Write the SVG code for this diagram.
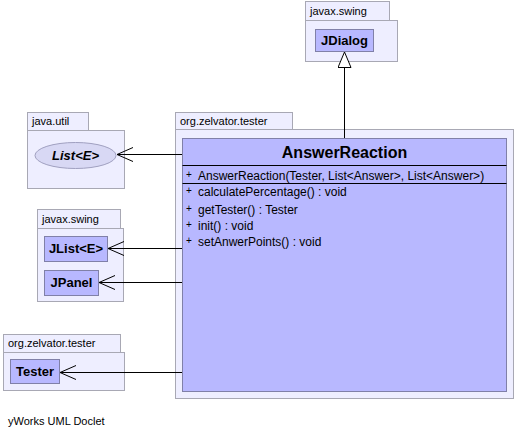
<svg xmlns="http://www.w3.org/2000/svg" width="517" height="437" viewBox="0 0 517 437">
<defs>
<style>
.pkg{fill:#eeeeff;stroke:#a8a8b4;stroke-width:1}
.cls{fill:#b8b8ff;stroke:#8080a8;stroke-width:1}
.ell{fill:#d8d8f4;stroke:#a0a0c0;stroke-width:1}
.pt{font-family:"Liberation Sans",Arial,sans-serif;font-size:11px;fill:#000}
.cn{font-family:"Liberation Sans",Arial,sans-serif;font-size:13px;font-weight:bold;fill:#000}
.big{font-family:"Liberation Sans",Arial,sans-serif;font-size:16px;font-weight:bold;fill:#000}
.mt{font-family:"Liberation Sans",Arial,sans-serif;font-size:12px;fill:#000}
.pl{font-family:"Liberation Sans",Arial,sans-serif;font-size:10px;fill:#000}
.edge{stroke:#000;stroke-width:1;fill:none}
</style>
<marker id="open" markerWidth="18" markerHeight="18" refX="16" refY="8" orient="auto" markerUnits="userSpaceOnUse" viewBox="0 0 18 16">
<path d="M0,1 L16,8 L0,15" fill="none" stroke="#000" stroke-width="1"/>
</marker>
<marker id="tri" markerWidth="17" markerHeight="14" refX="16" refY="7" orient="auto" markerUnits="userSpaceOnUse" viewBox="0 0 17 14">
<path d="M0.5,0.5 L16,7 L0.5,13.5 Z" fill="#fff" stroke="#000" stroke-width="1"/>
</marker>
</defs>
<rect width="517" height="437" fill="#fff"/>

<g id="pkg-javax-swing-top">
<rect class="pkg" x="305.5" y="1.5" width="84" height="19"/>
<rect class="pkg" x="305.5" y="20.5" width="92" height="41"/>
<text class="pt" x="310" y="15">javax.swing</text>
</g>
<g id="JDialog">
<rect class="cls" x="315.5" y="29.5" width="58" height="22"/>
<text class="cn" x="344.5" y="45" text-anchor="middle">JDialog</text>
</g>

<g id="pkg-java-util">
<rect class="pkg" x="27.5" y="112.5" width="61" height="18"/>
<rect class="pkg" x="27.5" y="130.5" width="97" height="58"/>
<text class="pt" x="32" y="125">java.util</text>
</g>
<g id="ListE">
<ellipse class="ell" cx="75.5" cy="155.5" rx="40.5" ry="13"/>
<text class="cn" x="75.5" y="160" text-anchor="middle" font-style="italic">List&lt;E&gt;</text>
</g>

<g id="pkg-org-zelvator-tester-main">
<rect class="pkg" x="175.5" y="112.5" width="117" height="17"/>
<rect class="pkg" x="175.5" y="129.5" width="338" height="269"/>
<text class="pt" x="180" y="125">org.zelvator.tester</text>
</g>
<g id="AnswerReaction">
<rect class="cls" x="182.5" y="138.5" width="324" height="253"/>
<line x1="182.5" y1="165.5" x2="506.5" y2="165.5" stroke="#000"/>
<line x1="182.5" y1="183.5" x2="506.5" y2="183.5" stroke="#000"/>
<text class="big" x="344.5" y="158" text-anchor="middle">AnswerReaction</text>
<text class="pl" x="186" y="178">+</text>
<text class="mt" x="198" y="180">AnswerReaction(Tester, List&lt;Answer&gt;, List&lt;Answer&gt;)</text>
<text class="pl" x="186" y="194">+</text>
<text class="mt" x="198" y="196">calculatePercentage() : void</text>
<text class="pl" x="186" y="212">+</text>
<text class="mt" x="198" y="214">getTester() : Tester</text>
<text class="pl" x="186" y="228">+</text>
<text class="mt" x="198" y="230">init() : void</text>
<text class="pl" x="186" y="244">+</text>
<text class="mt" x="198" y="246">setAnwerPoints() : void</text>
</g>

<g id="pkg-javax-swing-left">
<rect class="pkg" x="37.5" y="209.5" width="83" height="19"/>
<rect class="pkg" x="37.5" y="228.5" width="86" height="73"/>
<text class="pt" x="42" y="223">javax.swing</text>
</g>
<g id="JListE">
<rect class="cls" x="44.5" y="236.5" width="63" height="25"/>
<text class="cn" x="76" y="253" text-anchor="middle">JList&lt;E&gt;</text>
</g>
<g id="JPanel">
<rect class="cls" x="44.5" y="270.5" width="54" height="25"/>
<text class="cn" x="71.5" y="287" text-anchor="middle">JPanel</text>
</g>

<g id="pkg-org-zelvator-tester-left">
<rect class="pkg" x="3.5" y="334.5" width="117" height="18"/>
<rect class="pkg" x="3.5" y="352.5" width="121" height="38"/>
<text class="pt" x="8" y="347">org.zelvator.tester</text>
</g>
<g id="Tester">
<rect class="cls" x="10.5" y="359.5" width="49" height="24"/>
<text class="cn" x="35" y="376" text-anchor="middle">Tester</text>
</g>

<g id="connectors">
<line class="edge" x1="344.5" y1="138" x2="344.5" y2="52" marker-end="url(#tri)"/>
<line class="edge" x1="182" y1="154.5" x2="117" y2="154.5" marker-end="url(#open)"/>
<line class="edge" x1="182" y1="248.5" x2="108" y2="248.5" marker-end="url(#open)"/>
<line class="edge" x1="182" y1="282.5" x2="99" y2="282.5" marker-end="url(#open)"/>
<line class="edge" x1="182" y1="372.5" x2="60" y2="372.5" marker-end="url(#open)"/>
</g>

<text class="pt" x="8" y="425" font-size="11.8px">yWorks UML Doclet</text>
</svg>
